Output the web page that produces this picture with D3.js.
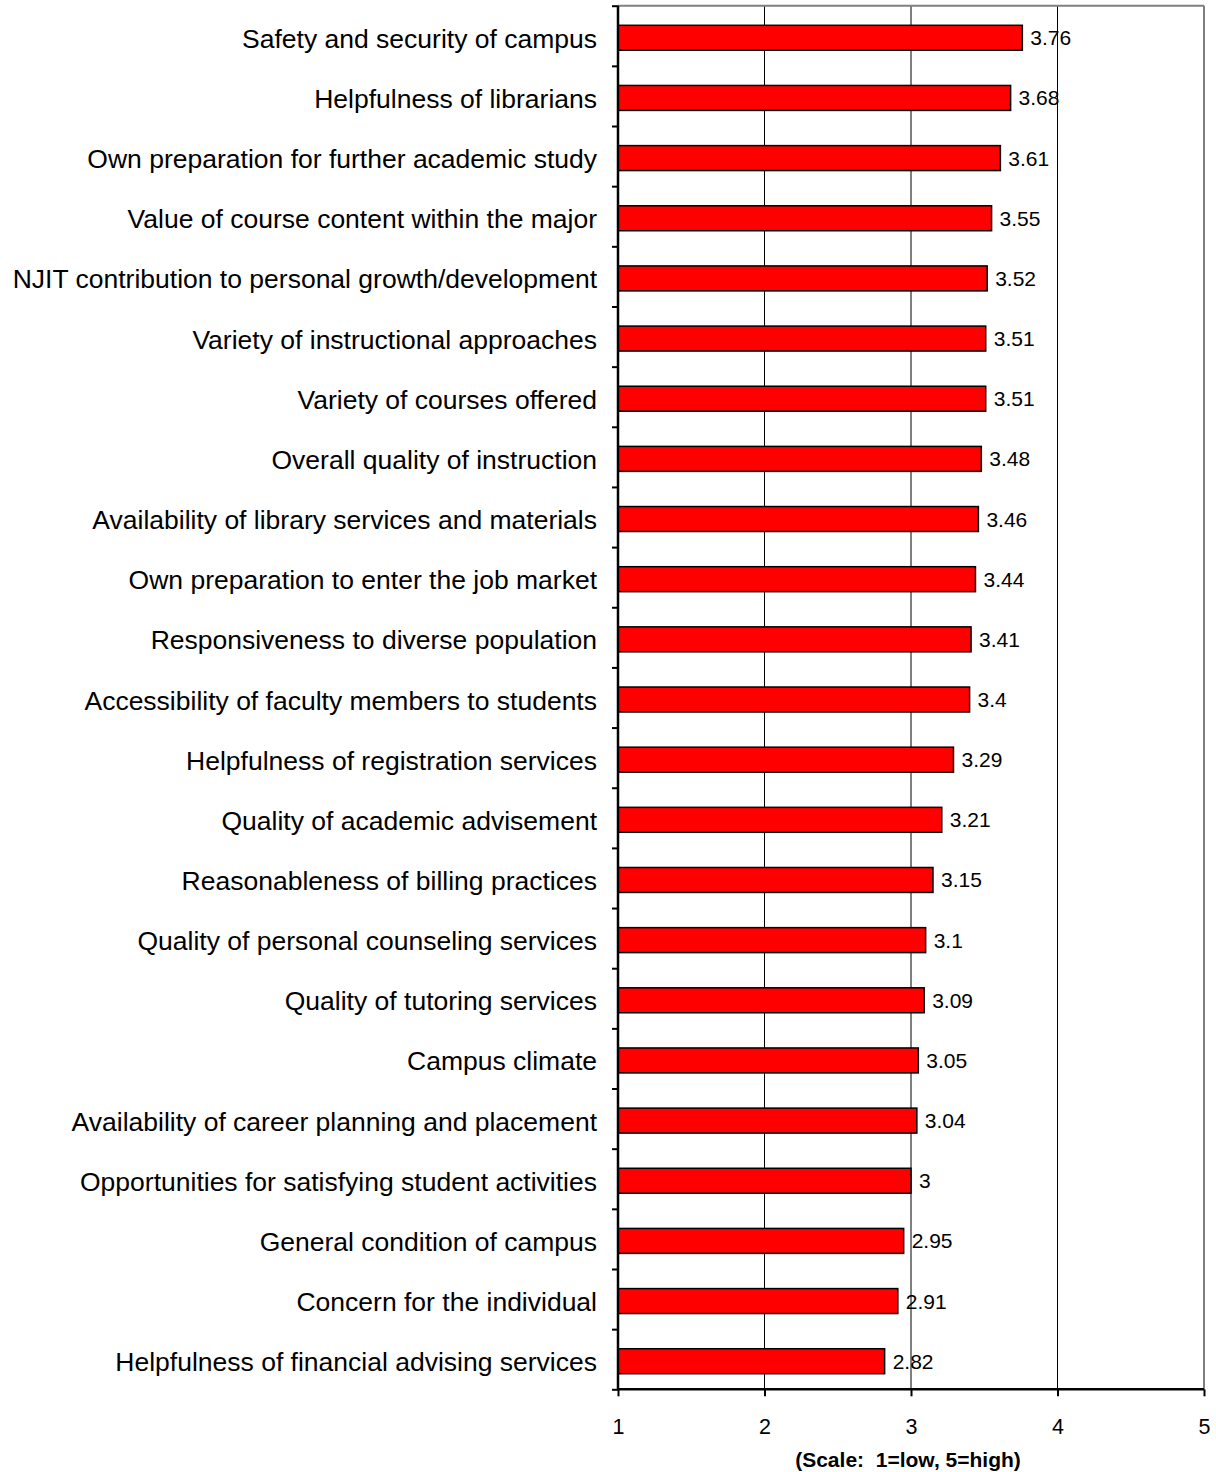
<!DOCTYPE html>
<html>
<head>
<meta charset="utf-8">
<script src="https://cdn.jsdelivr.net/npm/d3@7"></script>
<style>
  html, body { margin: 0; padding: 0; background: #fff; }
  svg { display: block; }
  text { font-family: "Liberation Sans", Arial, sans-serif; fill: #000; white-space: pre; }
</style>
</head>
<body>
<svg id="chart" width="1216" height="1472"></svg>
<script>
const categories = [
  "Safety and security of campus",
  "Helpfulness of librarians",
  "Own preparation for further academic study",
  "Value of course content within the major",
  "NJIT contribution to personal growth/development",
  "Variety of instructional approaches",
  "Variety of courses offered",
  "Overall quality of instruction",
  "Availability of library services and materials",
  "Own preparation to enter the job market",
  "Responsiveness to diverse population",
  "Accessibility of faculty members to students",
  "Helpfulness of registration services",
  "Quality of academic advisement",
  "Reasonableness of billing practices",
  "Quality of personal counseling services",
  "Quality of tutoring services",
  "Campus climate",
  "Availability of career planning and placement",
  "Opportunities for satisfying student activities",
  "General condition of campus",
  "Concern for the individual",
  "Helpfulness of financial advising services"
];
const values = [3.76, 3.68, 3.61, 3.55, 3.52, 3.51, 3.51, 3.48, 3.46, 3.44, 3.41, 3.4, 3.29, 3.21, 3.15, 3.1, 3.09, 3.05, 3.04, 3, 2.95, 2.91, 2.82];
const xTicks = [1, 2, 3, 4, 5];
const gridValues = [2, 3, 4];
const axisTitle = "(Scale:  1=low, 5=high)";

const data = categories.map((c, i) => ({ cat: c, val: values[i] }));

const L = 618, R = 1204, T = 5.7, B = 1389.3;
const svg = d3.select("#chart");

const x = d3.scaleLinear().domain([1, 5]).range([L, R]);
const y = d3.scaleBand().domain(categories).range([T, B]).paddingInner(0.585).paddingOuter(0.2925);
const yIdx = d3.scaleLinear().domain([0, categories.length]).range([T, B]);

// gridlines
svg.append("g").selectAll("line").data(gridValues).join("line")
  .attr("x1", d => x(d)).attr("x2", d => x(d))
  .attr("y1", T).attr("y2", B)
  .attr("stroke", "#000").attr("stroke-width", 1);

// frame top/right (gray)
svg.append("line").attr("x1", L).attr("x2", R).attr("y1", T).attr("y2", T)
  .attr("stroke", "#808080").attr("stroke-width", 2);
svg.append("line").attr("x1", R).attr("x2", R).attr("y1", T).attr("y2", B)
  .attr("stroke", "#808080").attr("stroke-width", 2);

// bars
svg.append("g").selectAll("rect").data(data).join("rect")
  .attr("x", x(1))
  .attr("y", d => y(d.cat) + 2)
  .attr("width", d => x(d.val) - x(1))
  .attr("height", y.bandwidth())
  .attr("fill", "#ff0000")
  .attr("stroke", "#000").attr("stroke-width", 1.5);

// value labels
svg.append("g").selectAll("text").data(data).join("text")
  .attr("x", d => x(d.val) + 8)
  .attr("y", d => y(d.cat) + y.bandwidth() / 2 + 9.5)
  .attr("font-size", 21)
  .text(d => d.val);

// category labels
svg.append("g").selectAll("text").data(data).join("text")
  .attr("x", 597)
  .attr("y", d => y(d.cat) + y.bandwidth() / 2 + 12)
  .attr("text-anchor", "end")
  .attr("font-size", 26.5)
  .text(d => d.cat);

// y axis (ticks at band boundaries)
const yAxis = svg.append("g").attr("transform", `translate(${L},0)`)
  .call(d3.axisLeft(yIdx).tickValues(d3.range(categories.length + 1)).tickSize(6).tickFormat(""));
yAxis.select(".domain").attr("stroke", "#000").attr("stroke-width", 2.5).attr("d", `M0,${T}V${B}`);
yAxis.selectAll(".tick line").attr("stroke", "#000").attr("stroke-width", 2);

// x axis
const xAxis = svg.append("g").attr("transform", `translate(0,${B})`)
  .call(d3.axisBottom(x).tickValues(xTicks).tickSize(7).tickFormat(d3.format("d")));
xAxis.select(".domain").attr("stroke", "#000").attr("stroke-width", 2.5).attr("d", `M${L},0H${R}`);
xAxis.selectAll(".tick line").attr("stroke", "#000").attr("stroke-width", 2);
xAxis.selectAll(".tick text")
  .attr("y", 45).attr("dy", null)
  .attr("font-size", 21.5)
  .attr("font-family", "Liberation Sans, Arial, sans-serif")
  .attr("fill", "#000");

// axis title
svg.append("text")
  .attr("x", 908).attr("y", 1467)
  .attr("text-anchor", "middle")
  .attr("font-size", 21).attr("font-weight", "bold")
  .text(axisTitle);
</script>
</body>
</html>
